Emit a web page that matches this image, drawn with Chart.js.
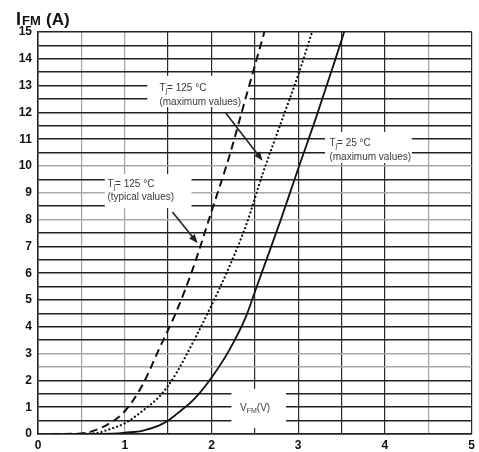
<!DOCTYPE html>
<html>
<head>
<meta charset="utf-8">
<script src="https://cdn.jsdelivr.net/npm/chart.js@4.4.1/dist/chart.umd.min.js"></script>
<style>
html, body { margin: 0; padding: 0; background: #fff; }
#wrap { width: 479px; height: 452px; }
</style>
</head>
<body>
<div id="wrap"><canvas id="myChart" width="479" height="452"></canvas></div>
<script>
// Tj = 125 °C typical values (dashed)
const vTyp125 = [0.15, 0.5, 0.6, 0.8, 1.0, 1.2, 1.4, 1.6, 1.8, 2.0, 2.2, 2.4, 2.61];
const iTyp125 = [0, 0.02, 0.08, 0.35, 0.85, 1.8, 3.2, 4.6, 6.3, 8.3, 10.3, 12.6, 15];
// Tj = 125 °C maximum values (dotted)
const vMax125 = [0.45, 0.7, 0.8, 1.0, 1.2, 1.4, 1.5, 1.6, 1.8, 2.0, 2.2, 2.4, 2.6, 2.8, 3.0, 3.16];
const iMax125 = [0, 0.05, 0.15, 0.4, 0.85, 1.4, 1.8, 2.3, 3.5, 4.8, 6.2, 7.8, 9.8, 11.6, 13.4, 15];
// Tj = 25 °C maximum values (solid)
const vMax25 = [0.6, 0.9, 1.0, 1.2, 1.4, 1.5, 1.6, 1.8, 2.0, 2.2, 2.4, 2.5, 2.6, 2.8, 3.0, 3.2, 3.4, 3.53];
const iMax25 = [0, 0.02, 0.05, 0.12, 0.32, 0.5, 0.75, 1.3, 2.1, 3.1, 4.4, 5.3, 6.2, 8.0, 9.9, 11.75, 13.7, 15];

// lighter grid lines (scanned datasheet look)
const lightX = [0.5, 1, 4.5];
const lightY = [10, 9, 8, 3, 2.5];

const FONT = '"Liberation Sans", Arial, sans-serif';

function pts(xs, ys) {
    return xs.map((x, i) => ({ x: x, y: ys[i] }));
}

// callouts: white boxes hiding the grid, labels and arrows (in axis units)
const callouts = [
    { box: [1.26, 13.36, 2.44, 12.2], x: 1.40, rows: [12.78, 12.29],
      lines: [[['T', 0], ['j', 1], ['= 125 °C', 0]], [['(maximum values)', 0]]],
      arrow: [2.16, 12.0, 2.59, 10.2] },
    { box: [0.77, 9.7, 1.77, 8.43], x: 0.80, rows: [9.22, 8.73],
      lines: [[['T', 0], ['j', 1], ['= 125 °C', 0]], [['(typical values)', 0]]],
      arrow: [1.55, 8.28, 1.84, 7.12] },
    { box: [3.31, 11.27, 4.31, 10.11], x: 3.36, rows: [10.75, 10.24],
      lines: [[['T', 0], ['j', 1], ['= 25 °C', 0]], [['(maximum values)', 0]]] },
    { box: [2.23, 1.68, 2.86, 0.22], x: 2.33, rows: [0.86],
      lines: [[['V', 0], ['FM', 1], ['(V)', 0]]] }
];

function richText(ctx, parts, x, y, size) {
    parts.forEach(([t, sub]) => {
        ctx.font = (sub ? size * 0.7 : size) + 'px ' + FONT;
        ctx.fillText(t, x, sub ? y + 2 : y);
        x += ctx.measureText(t).width;
    });
}

const calloutPlugin = {
    id: 'callouts',
    beforeDatasetsDraw(chart) {
        const { ctx, scales: { x, y } } = chart;
        ctx.save();
        ctx.fillStyle = '#fff';
        callouts.forEach(c => {
            const x0 = x.getPixelForValue(c.box[0]), y0 = y.getPixelForValue(c.box[1]);
            const x1 = x.getPixelForValue(c.box[2]), y1 = y.getPixelForValue(c.box[3]);
            ctx.fillRect(x0, y0, x1 - x0, y1 - y0);
        });
        ctx.restore();
    },
    afterDatasetsDraw(chart) {
        const { ctx, scales: { x, y } } = chart;
        ctx.save();
        ctx.fillStyle = '#3a3a3a';
        ctx.textBaseline = 'alphabetic';
        callouts.forEach(c => {
            c.lines.forEach((parts, i) => {
                richText(ctx, parts, x.getPixelForValue(c.x), y.getPixelForValue(c.rows[i]), 10);
            });
            if (c.arrow) {
                const ax = x.getPixelForValue(c.arrow[0]), ay = y.getPixelForValue(c.arrow[1]);
                const bx = x.getPixelForValue(c.arrow[2]), by = y.getPixelForValue(c.arrow[3]);
                const ang = Math.atan2(by - ay, bx - ax);
                ctx.strokeStyle = '#222';
                ctx.lineWidth = 1.6;
                ctx.beginPath();
                ctx.moveTo(ax, ay);
                ctx.lineTo(bx - 6 * Math.cos(ang), by - 6 * Math.sin(ang));
                ctx.stroke();
                ctx.fillStyle = '#222';
                ctx.beginPath();
                ctx.moveTo(bx, by);
                ctx.lineTo(bx - 9 * Math.cos(ang) + 3.5 * Math.sin(ang), by - 9 * Math.sin(ang) - 3.5 * Math.cos(ang));
                ctx.lineTo(bx - 9 * Math.cos(ang) - 3.5 * Math.sin(ang), by - 9 * Math.sin(ang) + 3.5 * Math.cos(ang));
                ctx.closePath();
                ctx.fill();
                ctx.fillStyle = '#3a3a3a';
            }
        });
        ctx.restore();
    },
    afterDraw(chart) {
        // y axis title  I_FM(A)
        const { ctx } = chart;
        ctx.save();
        ctx.fillStyle = '#111';
        ctx.textBaseline = 'alphabetic';
        ctx.font = 'bold 18px ' + FONT;
        ctx.fillText('I', 16, 25);
        ctx.font = 'bold 13px ' + FONT;
        ctx.fillText('FM', 22, 25);
        ctx.font = 'bold 17px ' + FONT;
        ctx.fillText('(A)', 46, 25);
        ctx.restore();
    }
};

const data = {
    datasets: [
        {
            label: 'Tj = 125 °C (typical values)',
            data: pts(vTyp125, iTyp125),
            borderColor: '#111',
            borderWidth: 2,
            borderDash: [8, 5],
        },
        {
            label: 'Tj = 125 °C (maximum values)',
            data: pts(vMax125, iMax125),
            borderColor: '#111',
            borderWidth: 2.2,
            borderDash: [0.1, 4],
            borderCapStyle: 'round',
        },
        {
            label: 'Tj = 25 °C (maximum values)',
            data: pts(vMax25, iMax25),
            borderColor: '#111',
            borderWidth: 1.8,
        },
    ],
};

const config = {
    type: 'line',
    data,
    options: {
        responsive: false,
        animation: false,
        layout: { padding: { top: 32, right: 1, left: 0, bottom: 0 } },
        elements: {
            point: { radius: 0 },
            line: { cubicInterpolationMode: 'monotone', fill: false },
        },
        plugins: {
            legend: { display: false },
            tooltip: { enabled: false },
        },
        scales: {
            x: {
                type: 'linear',
                min: 0,
                max: 5,
                afterFit(scale) { scale.height = 18; },
                ticks: {
                    stepSize: 0.5,
                    autoSkip: false,
                    maxRotation: 0,
                    padding: 4,
                    color: '#111',
                    font: { family: FONT, size: 12, weight: 'bold' },
                    callback: v => Number.isInteger(v) ? v : '',
                },
                grid: {
                    drawTicks: false,
                    color: c => lightX.includes(c.tick.value) ? '#a0a0a0' : '#2a2a2a',
                    lineWidth: 1.2,
                },
                border: { color: '#222', width: 1.5 },
            },
            y: {
                type: 'linear',
                min: 0,
                max: 15,
                afterFit(scale) { scale.width = 38; },
                ticks: {
                    stepSize: 0.5,
                    autoSkip: false,
                    padding: 6,
                    color: '#111',
                    font: { family: FONT, size: 12, weight: 'bold' },
                    callback: v => Number.isInteger(v) ? v : '',
                },
                grid: {
                    drawTicks: false,
                    color: c => lightY.includes(c.tick.value) ? '#a8a8a8' : '#222',
                    lineWidth: 1.5,
                },
                border: { color: '#222', width: 1.5 },
            },
        },
    },
    plugins: [calloutPlugin],
};

const myChart = new Chart(document.getElementById('myChart'), config);
</script>
</body>
</html>
